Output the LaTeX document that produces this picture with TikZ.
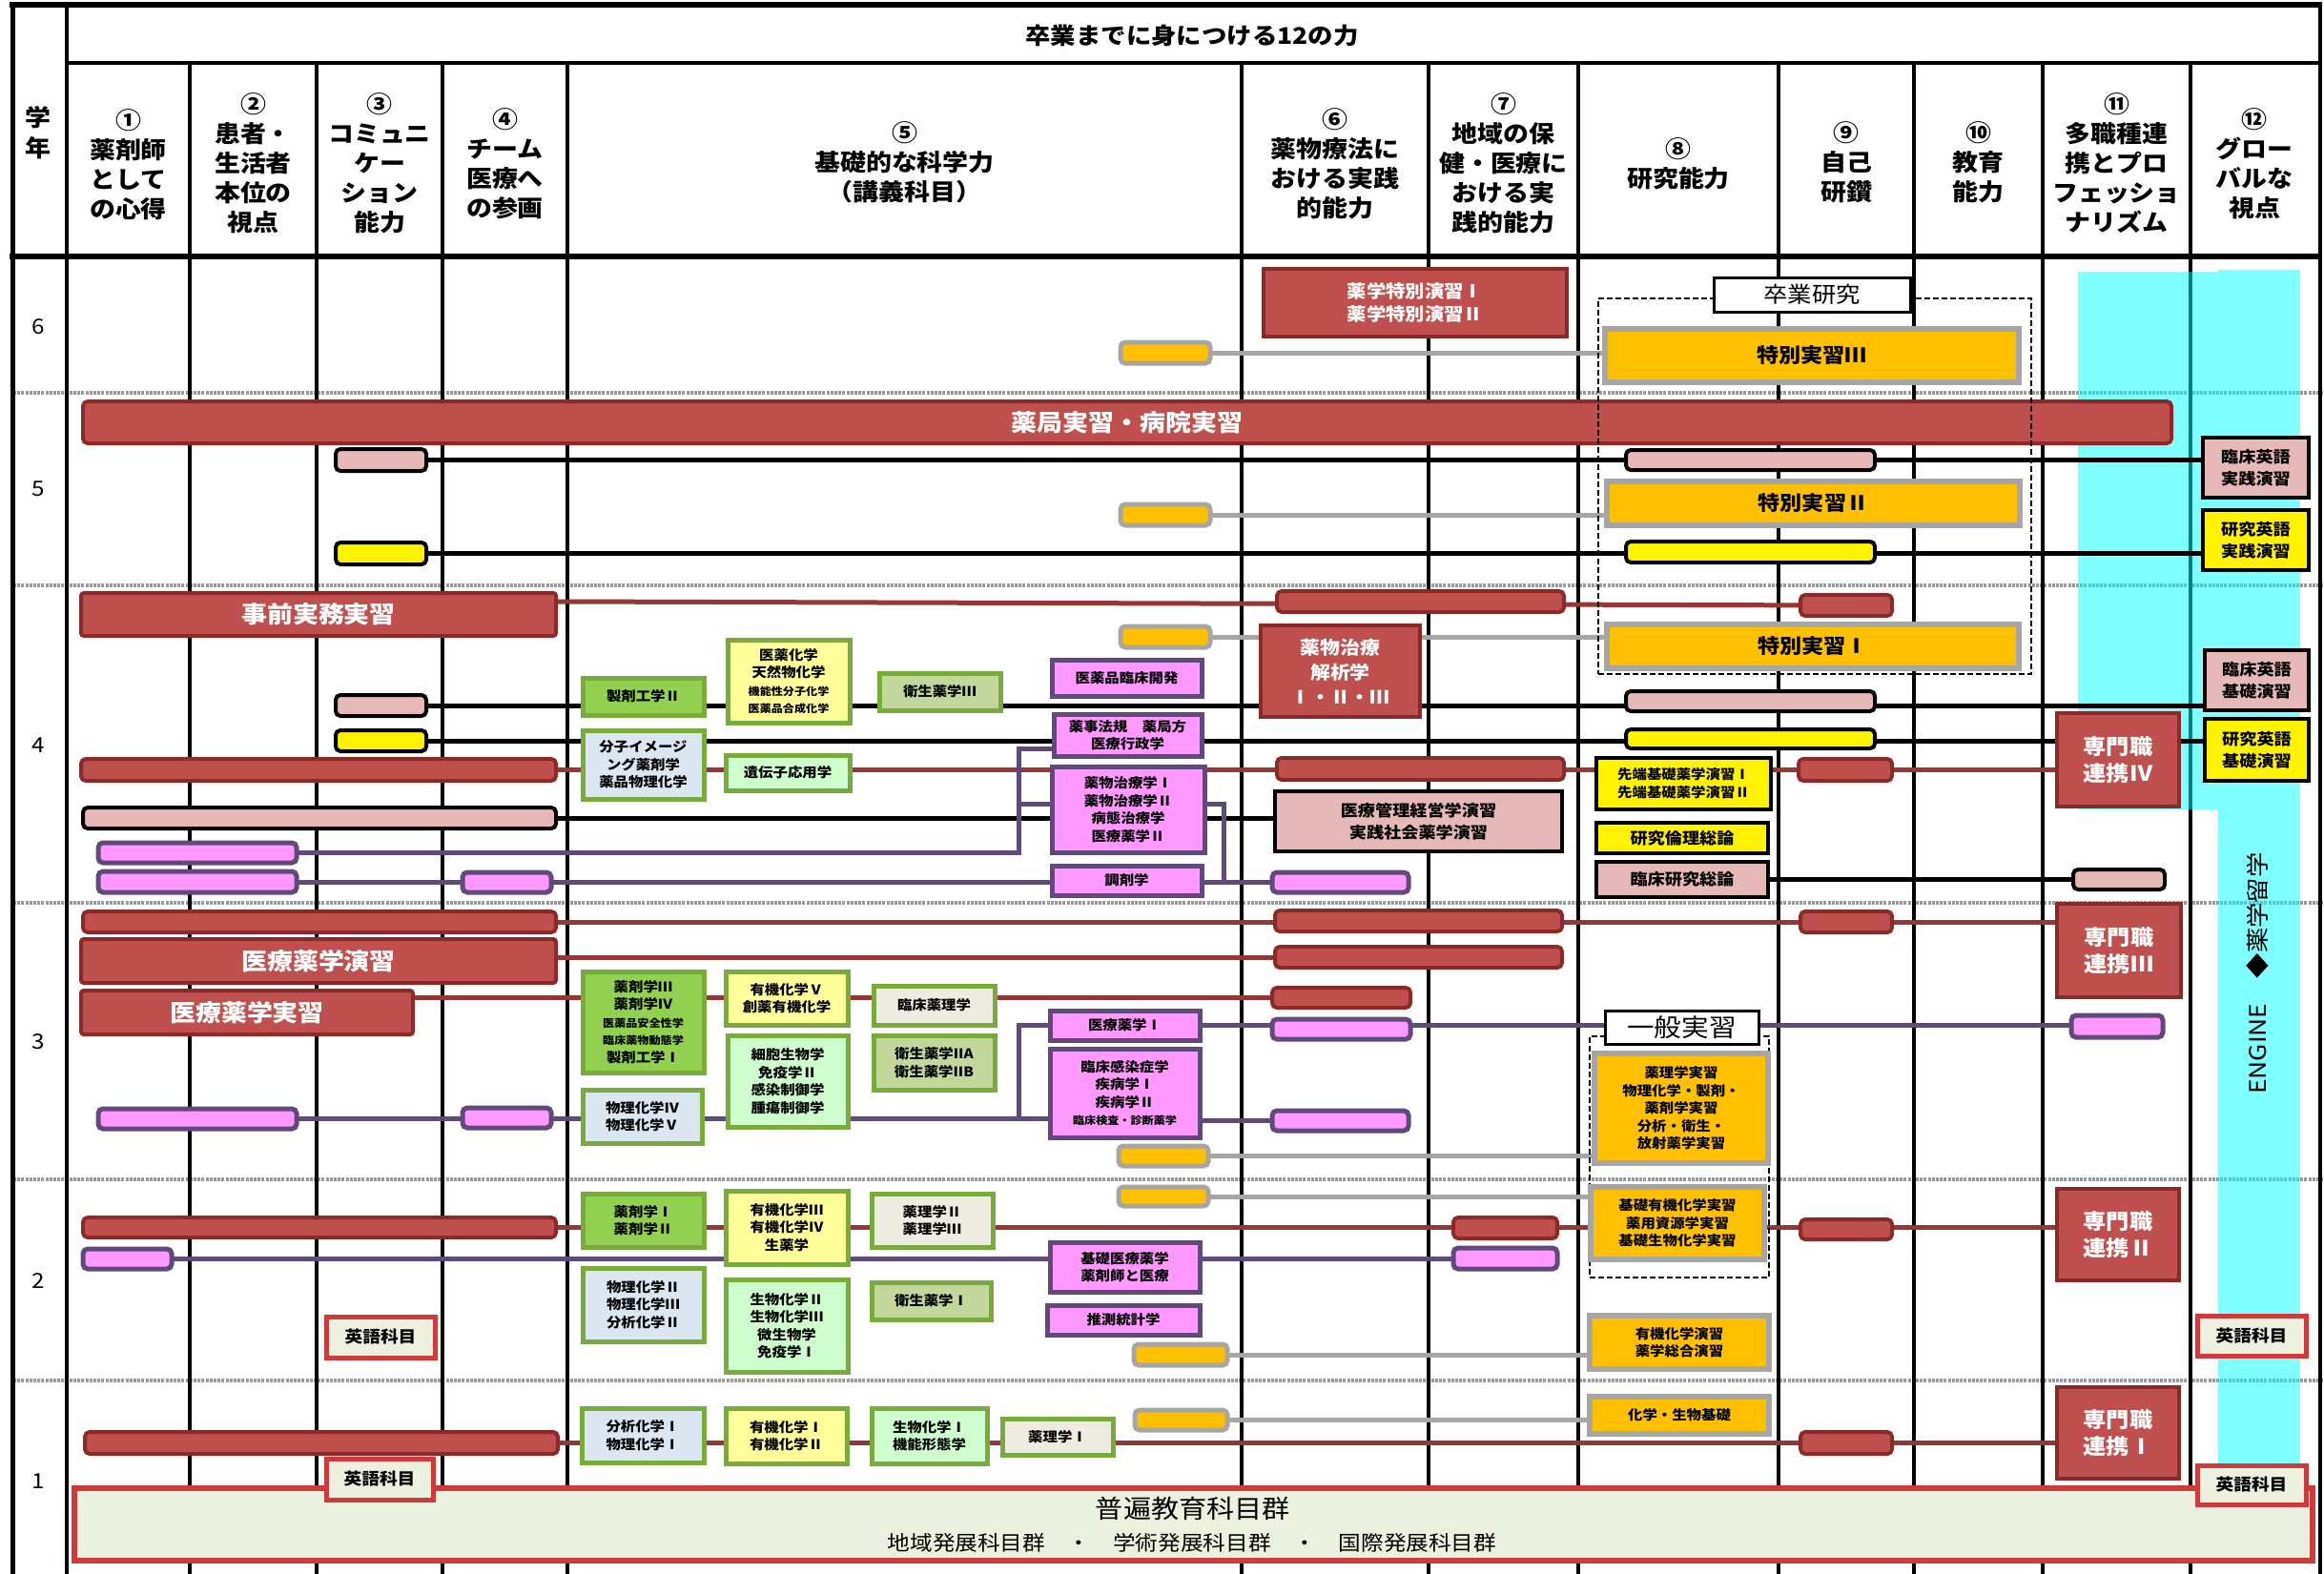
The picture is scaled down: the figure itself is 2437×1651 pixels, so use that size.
\documentclass[tikz,border=0pt]{standalone}
\usepackage{fontspec}
\setmainfont[FakeStretch=1.1]{Noto Sans CJK JP}
\pgfdeclarelayer{grid}
\pgfdeclarelayer{band}
\pgfdeclarelayer{conn}
\pgfsetlayers{grid,band,conn,main}
\definecolor{cred}{HTML}{C0504D}
\definecolor{cdred}{HTML}{8C2A2A}
\definecolor{clred}{HTML}{953735}
\definecolor{cpink}{HTML}{E6B8B7}
\definecolor{corg}{HTML}{FFC000}
\definecolor{cgry}{HTML}{A6A6A6}
\definecolor{cmag}{HTML}{FF99FF}
\definecolor{cpur}{HTML}{604A7B}
\definecolor{cgrn}{HTML}{78AA3C}
\definecolor{fgA}{HTML}{92D050}
\definecolor{fgY}{HTML}{FFFF99}
\definecolor{fgO}{HTML}{C4D79B}
\definecolor{fgL}{HTML}{CCFFCC}
\definecolor{fgB}{HTML}{DCE6F1}
\definecolor{fgE}{HTML}{EEECE1}
\definecolor{cbei}{HTML}{EBF1DE}
\definecolor{cengred}{HTML}{CF3A3A}
\definecolor{ccyan}{RGB}{0,255,255}
\definecolor{cdot}{HTML}{9A9A9A}
\newcommand\fs[2]{\fontsize{#1}{#2}\selectfont}
\newcommand\mybox[7]{\node[#1,minimum width={(#5)-(#3)-4},minimum height={(#6)-(#4)-4}] (#2) at ({((#3)+(#5))/2},{((#4)+(#6))/2}) {#7};}
\tikzset{
 bx/.style={inner sep=0pt, outer sep=0pt, align=center, font=\bfseries\fs{14}{18.5}},
 drb/.style={bx, fill=cred, draw=cdred, line width=4pt, text=white},
 drbar/.style={drb, rounded corners=5pt},
 bigred/.style={drbar, rounded corners=3pt, font=\bfseries\fs{24.5}{30}},
 senbox/.style={drb, font=\bfseries\fs{22}{28}},
 pkbar/.style={bx, fill=cpink, draw=black, line width=4pt, rounded corners=5pt},
 pkbox/.style={bx, fill=cpink, draw=black, line width=4pt, font=\bfseries\fs{16.5}{23}},
 ylbar/.style={bx, fill=yellow, draw=black, line width=4pt, rounded corners=5pt},
 ylbox/.style={bx, fill=yellow, draw=black, line width=4pt, font=\bfseries\fs{16.5}{23}},
 orbar/.style={bx, fill=corg, draw=cgry, line width=5pt, rounded corners=5pt},
 orbox/.style={bx, fill=corg, draw=cgry, line width=6pt},
 tokbox/.style={orbox, font=\bfseries\fs{21}{26}},
 mgbar/.style={bx, fill=cmag, draw=cpur, line width=5pt, rounded corners=5pt},
 mgbox/.style={bx, fill=cmag, draw=cpur, line width=5pt},
 gbx/.style={bx, draw=cgrn, line width=5pt},
 gA/.style={gbx, fill=fgA},
 gY/.style={gbx, fill=fgY},
 gO/.style={gbx, fill=fgO},
 gL/.style={gbx, fill=fgL},
 gB/.style={gbx, fill=fgB},
 gE/.style={gbx, fill=fgE},
 engbox/.style={bx, fill=cbei, draw=cengred, line width=5pt, font=\bfseries\fs{17}{20}},
 labbox/.style={bx, fill=white, draw=black, line width=3pt, font=\fs{23}{28}},
 grp/.style={draw=black, line width=2.5pt, dash pattern=on 6pt off 3pt, inner sep=0pt},
 hdr/.style={align=center, inner sep=0pt, font=\bfseries\fs{24.5}{31}},
 yr/.style={inner sep=0pt, font=\fs{22}{22}},
 lred/.style={draw=clred, line width=5pt},
 lblk/.style={draw=black, line width=5pt},
 lgry/.style={draw=cgry, line width=5pt},
 lpur/.style={draw=cpur, line width=5pt},
 cline/.style={draw=black, line width=3.5pt},
 yline/.style={draw=cdot, line width=3.5pt, dash pattern=on 3pt off 1.2pt},
}
\begin{document}
\begin{tikzpicture}[x=1pt,y=-1pt]
\useasboundingbox (0,0) rectangle (2437,1651);
% ---------- grid ----------
\begin{pgfonlayer}{grid}
\foreach \yy in {412,614,947,1237,1448} \draw[yline] (14,\yy) -- (2437,\yy);
\foreach \xx in {199,332,464,595,1302,1498,1655,1865,2007,2142,2297} \draw[cline] (\xx,66) -- (\xx,1651);
\draw[black, line width=4pt] (70,5) -- (70,1651);
\draw[black, line width=5pt] (13,3) -- (13,1651);
\draw[black, line width=4pt] (2433,3) -- (2433,1651);
\draw[black, line width=6pt] (10,5) -- (2435,5);
\draw[black, line width=4pt] (70,66) -- (2433,66);
\draw[black, line width=6pt] (10,269) -- (2435,269);
\end{pgfonlayer}
\begin{pgfonlayer}{band}
\fill[ccyan, opacity=0.5] (2179,285) rectangle (2326,849);
\fill[ccyan, opacity=0.5] (2326,283) rectangle (2412,1540);
\end{pgfonlayer}
% ---------- header ----------
\node[font=\bfseries\fs{24}{30}] (title) at (1250,37) {卒業までに身につける12の力};
\node[hdr,font=\bfseries\fs{24.5}{32}] (gakunen) at (40,139) {学\\年};
\node[hdr] (h1) at (134.5,173) {①\\薬剤師\\として\\の心得};
\node[hdr] (h2) at (265.5,171) {②\\患者・\\生活者\\本位の\\視点};
\node[hdr] (h3) at (398,171) {③\\コミュニ\\ケー\\ション\\能力};
\node[hdr] (h4) at (529.5,172) {④\\チーム\\医療へ\\の参画};
\node[hdr] (h5) at (948.5,170) {⑤\\基礎的な科学力\\（講義科目）};
\node[hdr] (h6) at (1400,172) {⑥\\薬物療法に\\おける実践\\的能力};
\node[hdr] (h7) at (1576.5,171) {⑦\\地域の保\\健・医療に\\おける実\\践的能力};
\node[hdr] (h8) at (1760,172) {⑧\\研究能力};
\node[hdr] (h9) at (1936,170) {⑨\\自己\\研鑽};
\node[hdr] (h10) at (2074.5,170) {⑩\\教育\\能力};
\node[hdr] (h11) at (2219.5,171) {⑪\\多職種連\\携とプロ\\フェッショ\\ナリズム};
\node[hdr] (h12) at (2364,172) {⑫\\グロー\\バルな\\視点};
% year numbers
\node[yr] (yr6) at (40,343) {6};
\node[yr] (yr5) at (40,513) {5};
\node[yr] (yr4) at (40,782) {4};
\node[yr] (yr3) at (40,1093) {3};
\node[yr] (yr2) at (40,1344) {2};
\node[yr] (yr1) at (40,1554) {1};
% ENGINE band text
\node[rotate=90, inner sep=0pt, font=\fs{24}{24}] (engine) at (2367,1021) {ENGINE　◆薬学留学};
% ---------- year 6 ----------
\mybox{drb,font=\bfseries\fs{18.5}{24}}{tokuen}{1323}{280}{1645}{355}{薬学特別演習Ⅰ\\薬学特別演習Ⅱ}
\mybox{orbar}{g6}{1173}{357}{1271}{383}{}
% ---------- year 5 ----------
\mybox{bigred,rounded corners=5pt}{bar5}{85}{419}{2279}{467}{薬局実習・病院実習}
\mybox{grp}{grpA}{1674}{311}{2132}{709}{}
\mybox{labbox}{sotsu}{1795}{289}{2005}{329}{卒業研究}
\mybox{tokbox}{tok3}{1681}{343}{2119}{403}{特別実習Ⅲ}
\mybox{pkbar}{p5a}{350}{469}{449}{496}{}
\mybox{pkbar}{p5b}{1703}{470}{1968}{495}{}
\mybox{pkbox}{eng5a}{2308}{457}{2423}{524}{臨床英語\\実践演習}
\mybox{orbar}{g5}{1173}{527}{1271}{553}{}
\mybox{tokbox}{tok2}{1683}{503}{2120}{553}{特別実習Ⅱ}
\mybox{ylbar}{y5a}{350}{567}{449}{594}{}
\mybox{ylbar}{y5b}{1703}{566}{1968}{592}{}
\mybox{ylbox}{eng5b}{2308}{533}{2423}{600}{研究英語\\実践演習}
% ---------- year 4 ----------
\mybox{bigred}{jizen}{83}{620}{585}{669}{事前実務実習}
\mybox{drbar}{r4a}{1337}{618}{1642}{644}{}
\mybox{drbar}{r4b}{1886}{622}{1986}{648}{}
\mybox{orbar}{g4}{1173}{655}{1271}{681}{}
\mybox{tokbox}{tok1}{1683}{653}{2119}{703}{特別実習Ⅰ}
\mybox{drb,font=\bfseries\fs{19}{26}}{kaiseki}{1320}{654}{1491}{754}{薬物治療\\解析学\\Ⅰ・Ⅱ・Ⅲ}
\mybox{mgbox}{rinkai}{1101}{690}{1262}{732}{医薬品臨床開発}
\mybox{gO}{eisei3}{920}{704}{1051}{747}{衛生薬学Ⅲ}
\mybox{gY}{iyakag}{761}{669}{893}{760}{医薬化学\\天然物化学\\{\fs{11}{14}機能性分子化学}\\{\fs{11}{14}医薬品合成化学}}
\mybox{gA}{seizai2}{609}{709}{740}{752}{製剤工学Ⅱ}
\mybox{pkbar}{p4a}{350}{727}{449}{753}{}
\mybox{pkbar}{p4b}{1703}{723}{1968}{748}{}
\mybox{pkbox}{eng4a}{2310}{680}{2423}{747}{臨床英語\\基礎演習}
\mybox{ylbar}{y4a}{350}{764}{449}{790}{}
\mybox{ylbar}{y4b}{1703}{763}{1968}{787}{}
\mybox{ylbox}{eng4b}{2310}{752}{2423}{821}{研究英語\\基礎演習}
\mybox{senbox}{sen4}{2155}{746}{2287}{848}{専門職\\連携Ⅳ}
\mybox{mgbox}{yakuji}{1103}{747}{1262}{795}{薬事法規　薬局方\\医療行政学}
\mybox{gB}{bunshi}{609}{764}{740}{840}{分子イメージ\\ング薬剤学\\薬品物理化学}
\mybox{gL}{idenshi}{759}{790}{893}{831}{遺伝子応用学}
\mybox{drbar}{r4c}{83}{794}{585}{821}{}
\mybox{drbar}{r4d}{1337}{793}{1642}{820}{}
\mybox{ylbox,font=\bfseries\fs{14}{19}}{sentan}{1672}{793}{1859}{851}{先端基礎薬学演習Ⅰ\\先端基礎薬学演習Ⅱ}
\mybox{drbar}{r4e}{1884}{794}{1986}{821}{}
\mybox{mgbox}{chiryo}{1101}{802}{1265}{896}{薬物治療学Ⅰ\\薬物治療学Ⅱ\\病態治療学\\医療薬学Ⅱ}
\mybox{pkbar}{p4c}{85}{845}{585}{871}{}
\mybox{pkbox}{kanri}{1335}{828}{1640}{895}{医療管理経営学演習\\実践社会薬学演習}
\mybox{mgbar}{m4a}{101}{882}{313}{907}{}
\mybox{mgbar}{m4b}{101}{912}{313}{938}{}
\mybox{mgbar}{m4c}{483}{913}{580}{938}{}
\mybox{mgbox}{chozai}{1101}{906}{1262}{941}{調剤学}
\mybox{mgbar}{m4d}{1332}{913}{1479}{938}{}
\mybox{ylbox}{rinri}{1672}{861}{1856}{897}{研究倫理総論}
\mybox{pkbox}{rsoron}{1672}{902}{1856}{943}{臨床研究総論}
\mybox{pkbar}{p4d}{2172}{910}{2272}{935}{}
% ---------- year 3 ----------
\mybox{drbar}{r3a}{85}{954}{585}{980}{}
\mybox{drbar}{r3b}{1335}{953}{1640}{979}{}
\mybox{drbar}{r3c}{1886}{954}{1986}{980}{}
\mybox{senbox}{sen3}{2155}{946}{2289}{1048}{専門職\\連携Ⅲ}
\mybox{bigred}{iryoen}{83}{983}{585}{1033}{医療薬学演習}
\mybox{drbar}{r3d}{1335}{991}{1640}{1017}{}
\mybox{bigred}{iryoji}{83}{1037}{435}{1087}{医療薬学実習}
\mybox{drbar}{r3e}{1332}{1034}{1481}{1059}{}
\mybox{gA}{yakuzai3}{609}{1017}{740}{1127}{薬剤学Ⅲ\\薬剤学Ⅳ\\{\fs{11}{14}医薬品安全性学}\\{\fs{11}{14}臨床薬物動態学}\\製剤工学Ⅰ}
\mybox{gY}{yuki5}{759}{1017}{891}{1077}{有機化学Ⅴ\\創薬有機化学}
\mybox{gE}{rinyaku}{914}{1032}{1045}{1077}{臨床薬理学}
\mybox{gL}{saibo}{761}{1084}{891}{1184}{細胞生物学\\免疫学Ⅱ\\感染制御学\\腫瘍制御学}
\mybox{gO}{eisei2}{914}{1084}{1045}{1145}{衛生薬学IIA\\衛生薬学IIB}
\mybox{mgbox}{iryo1}{1099}{1058}{1260}{1093}{医療薬学Ⅰ}
\mybox{mgbar}{m3a}{1332}{1067}{1481}{1092}{}
\mybox{grp}{grpB}{1665}{1085}{1857}{1342}{}
\mybox{labbox,font=\fs{26}{30}}{ippanl}{1681}{1058}{1846}{1097}{一般実習}
\mybox{mgbar}{m3b}{2170}{1063}{2270}{1090}{}
\mybox{mgbox}{kansen}{1099}{1098}{1260}{1195}{臨床感染症学\\疾病学Ⅰ\\疾病学Ⅱ\\{\fs{11}{14}臨床検査・診断薬学}}
\mybox{mgbar}{m3c}{101}{1161}{313}{1186}{}
\mybox{mgbar}{m3d}{483}{1160}{580}{1185}{}
\mybox{gB}{butsuri4}{609}{1141}{738}{1201}{物理化学Ⅳ\\物理化学Ⅴ}
\mybox{mgbar}{m3e}{1332}{1163}{1479}{1188}{}
\mybox{orbar}{g3}{1171}{1200}{1269}{1225}{}
\mybox{orbox}{ippan}{1670}{1103}{1856}{1222}{薬理学実習\\物理化学・製剤・\\薬剤学実習\\分析・衛生・\\放射薬学実習}
% ---------- year 2 ----------
\mybox{orbar}{g2a}{1171}{1243}{1269}{1267}{}
\mybox{orbox}{kisoyuki}{1666}{1243}{1852}{1323}{基礎有機化学実習\\薬用資源学実習\\基礎生物化学実習}
\mybox{gA}{yakuzai12}{609}{1250}{740}{1310}{薬剤学Ⅰ\\薬剤学Ⅱ}
\mybox{gY}{yuki34}{759}{1247}{891}{1328}{有機化学Ⅲ\\有機化学Ⅳ\\生薬学}
\mybox{gE}{yakuri23}{912}{1250}{1043}{1310}{薬理学Ⅱ\\薬理学Ⅲ}
\mybox{drbar}{r2a}{85}{1275}{585}{1300}{}
\mybox{drbar}{r2b}{1522}{1275}{1635}{1301}{}
\mybox{drbar}{r2c}{1886}{1277}{1986}{1302}{}
\mybox{senbox}{sen2}{2155}{1245}{2287}{1345}{専門職\\連携Ⅱ}
\mybox{mgbar}{m2a}{85}{1308}{182}{1333}{}
\mybox{mgbox}{kisoiryo}{1099}{1301}{1260}{1357}{基礎医療薬学\\薬剤師と医療}
\mybox{mgbar}{m2b}{1522}{1307}{1635}{1333}{}
\mybox{gB}{butsuri23}{609}{1328}{740}{1409}{物理化学Ⅱ\\物理化学Ⅲ\\分析化学Ⅱ}
\mybox{gL}{seibutsu23}{759}{1340}{891}{1441}{生物化学Ⅱ\\生物化学Ⅲ\\微生物学\\免疫学Ⅰ}
\mybox{gO}{eisei1}{912}{1343}{1041}{1386}{衛生薬学Ⅰ}
\mybox{mgbox}{suisoku}{1096}{1367}{1260}{1402}{推測統計学}
\mybox{orbar}{g2b}{1187}{1408}{1289}{1434}{}
\mybox{orbox}{yukien}{1665}{1378}{1857}{1438}{有機化学演習\\薬学総合演習}
\mybox{engbox}{eng2a}{340}{1379}{458}{1426}{英語科目}
\mybox{engbox}{eng2b}{2302}{1378}{2420}{1424}{英語科目}
% ---------- year 1 ----------
\mybox{gB}{bunseki1}{608}{1475}{740}{1536}{分析化学Ⅰ\\物理化学Ⅰ}
\mybox{gY}{yuki12}{759}{1475}{890}{1537}{有機化学Ⅰ\\有機化学Ⅱ}
\mybox{gL}{seibutsu1}{912}{1475}{1037}{1537}{生物化学Ⅰ\\機能形態学}
\mybox{gE}{yakuri1}{1049}{1486}{1169}{1528}{薬理学Ⅰ}
\mybox{orbar}{g1}{1188}{1477}{1289}{1502}{}
\mybox{orbox}{kagaku}{1665}{1463}{1857}{1506}{化学・生物基礎}
\mybox{drbar}{r1a}{87}{1500}{587}{1527}{}
\mybox{drbar}{r1b}{1886}{1500}{1986}{1527}{}
\mybox{senbox}{sen1}{2155}{1453}{2287}{1553}{専門職\\連携Ⅰ}
\mybox{engbox,line width=6pt}{futsu}{76}{1559}{2427}{1639}{}
\node[inner sep=0pt, font=\fs{26.5}{30}] (futsuA) at (1251,1582) {普遍教育科目群};
\node[inner sep=0pt, font=\fs{21.5}{24}] (futsuB) at (1250,1618) {地域発展科目群　・　学術発展科目群　・　国際発展科目群};
\mybox{engbox}{eng1a}{340}{1528}{456}{1575}{英語科目}
\mybox{engbox}{eng1b}{2302}{1535}{2420}{1580}{英語科目}
% ---------- connectors ----------
\coordinate (k1) at (1068,785);
\coordinate (k2) at (1068,843);
\coordinate (k3) at (1283,843);
\coordinate (k4) at (1068,1075.5);
\begin{pgfonlayer}{conn}
% grey
\draw[lgry] (g6.east) -- (g6.east -| tok3.west);
\draw[lgry] (g5.east) -- (g5.east -| tok2.west);
\draw[lgry] (g4.east) -- (g4.east -| tok1.west);
\draw[lgry] (g3.east) -- (g3.east -| ippan.west);
\draw[lgry] (g2a.east) -- (g2a.east -| kisoyuki.west);
\draw[lgry] (g2b.east) -- (g2b.east -| yukien.west);
\draw[lgry] (g1.east) -- (g1.east -| kagaku.west);
% black
\draw[lblk] (p5a.east) -- (p5a.east -| eng5a.west);
\draw[lblk] (y5a.east) -- (y5a.east -| eng5b.west);
\draw[lblk] (p4a.east) -- (p4a.east -| eng4a.west);
\draw[lblk] (y4a.east) -- (y4a.east -| eng4b.west);
\draw[lblk] (p4c.east) -- (p4c.east -| kanri.west);
\draw[lblk] (rsoron.east) -- (rsoron.east -| p4d.west);
% red
\draw[lred] (jizen.east |- r4a.center) -- (r4b.center);
\draw[lred] (r4c.east) -- (r4c.east -| sen4.west);
\draw[lred] (r3a.east) -- (r3a.east -| sen3.west);
\draw[lred] (iryoen.east |- r3d.center) -- (r3d.west);
\draw[lred] (iryoji.east |- r3e.center) -- (r3e.west);
\draw[lred] (r2a.east) -- (r2a.east -| sen2.west);
\draw[lred] (r1a.east) -- (r1a.east -| sen1.west);
% purple
\draw[lpur] (m4a.east) -| (k1) -- (k1 -| yakuji.west);
\draw[lpur] (k2) -- (k2 -| chiryo.west);
\draw[lpur] (m4b.east) -- (m4b.east -| m4d.west);
\draw[lpur] (k3 -| chiryo.east) -- (k3) |- (m4d.west);
\draw[lpur] (iryo1.east) -- (iryo1.east -| m3b.west);
\draw[lpur] (m3c.east) -- (m3c.east -| kansen.west);
\draw[lpur] (k4 |- m3c.east) -- (k4) -- (k4 -| iryo1.west);
\draw[lpur] (kansen.east |- m3e.center) -- (m3e.west);
\draw[lpur] (m2a.east) -- (m2a.east -| m2b.west);
\end{pgfonlayer}
\end{tikzpicture}
\end{document}
